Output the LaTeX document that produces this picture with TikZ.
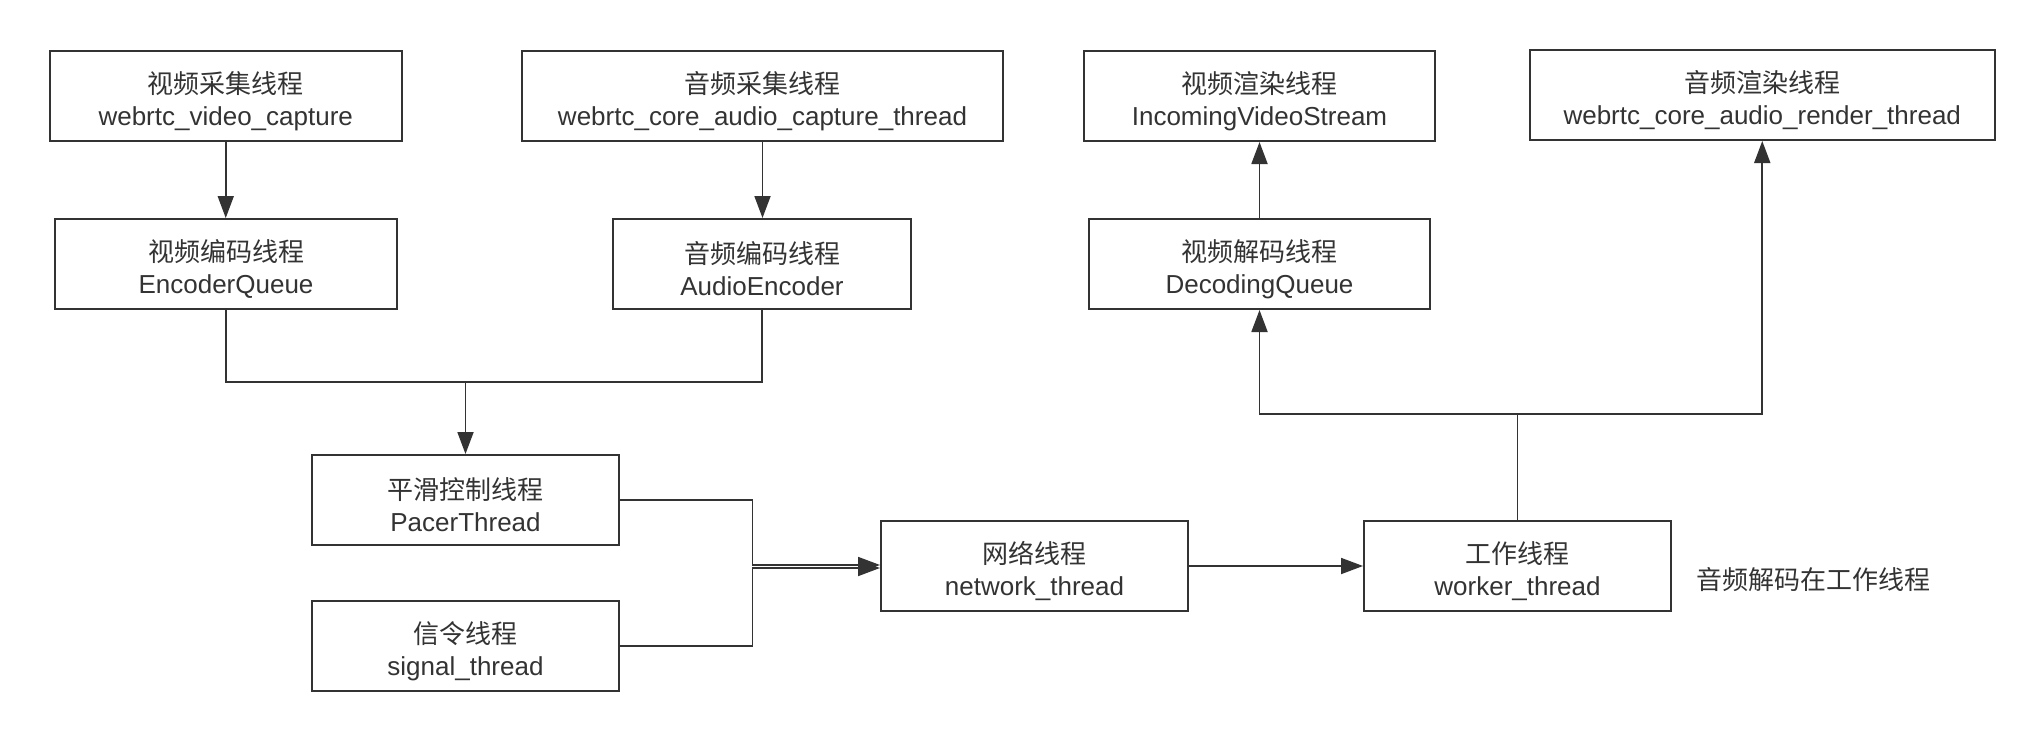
\documentclass[tikz,border=0pt]{standalone}
\usepackage{fontspec}
\setmainfont{Liberation Sans}
\newfontfamily\cjk{Noto Sans CJK SC}
\usetikzlibrary{arrows.meta}
\definecolor{ink}{HTML}{333333}
\newcommand{\twolines}[2]{\rule{0pt}{32pt}{\cjk #1}\\#2}
\begin{document}
\begin{tikzpicture}[x=1pt,y=-1pt,
  box/.style={draw=ink, line width=2pt, minimum height=90pt, inner sep=0pt, align=center, text=ink, font=\fontsize{26}{32}\selectfont},
  conn/.style={draw=ink, line width=1.8pt, -{Triangle[length=22pt,width=16pt]}},
  plain/.style={draw=ink, line width=1.8pt},
  note/.style={text=ink, inner sep=0pt, font=\fontsize{26}{32}\selectfont\cjk}]
\useasboundingbox[fill=white] (0,0) rectangle (2042,741);
\node[box, minimum width=352pt] (vcap) at (225.75,96) {\twolines{视频采集线程}{webrtc\_video\_capture}};
\node[box, minimum width=481pt] (acap) at (762.5,96) {\twolines{音频采集线程}{webrtc\_core\_audio\_capture\_thread}};
\node[box, minimum width=351pt] (vrender) at (1259.5,96) {\twolines{视频渲染线程}{IncomingVideoStream}};
\node[box, minimum width=465pt] (arender) at (1762.25,95) {\twolines{音频渲染线程}{webrtc\_core\_audio\_render\_thread}};
\node[box, minimum width=342pt] (venc) at (226,264) {\twolines{视频编码线程}{EncoderQueue}};
\node[box, minimum width=298pt] (aenc) at (762,264) {\twolines{音频编码线程}{AudioEncoder}};
\node[box, minimum width=341pt] (vdec) at (1259.5,264) {\twolines{视频解码线程}{DecodingQueue}};
\node[box, minimum width=307pt] (pacer) at (465.5,500) {\twolines{平滑控制线程}{PacerThread}};
\node[box, minimum width=307pt] (signal) at (465.5,646) {\twolines{信令线程}{signal\_thread}};
\node[box, minimum width=307pt] (network) at (1034.5,566) {\twolines{网络线程}{network\_thread}};
\node[box, minimum width=307pt] (worker) at (1517.5,566) {\twolines{工作线程}{worker\_thread}};
\node[note] (notetext) at (1813,580) {音频解码在工作线程};
\coordinate (j) at (465.5,382);
\coordinate (m1) at (752.5,565);
\coordinate (m2) at (752.5,568);
\coordinate (b) at (1517.5,414);
\draw[conn] (vcap.south) -- (vcap.south |- venc.north);
\draw[conn] (acap.south) -- (acap.south |- aenc.north);
\draw[plain] (venc.south) |- (j) -| (aenc.south);
\draw[conn] (j) -- (pacer.north);
\draw[conn] (pacer.east) -| (m1) -- (m1 -| network.west);
\draw[conn] (signal.east) -| (m2) -- (m2 -| network.west);
\draw[conn] (network) -- (worker);
\draw[plain] (worker.north) -- (b);
\draw[conn] (b) -| (vdec.south);
\draw[conn] (b) -| (arender.south);
\draw[conn] (vdec.north) -- (vrender.south);
\end{tikzpicture}
\end{document}
